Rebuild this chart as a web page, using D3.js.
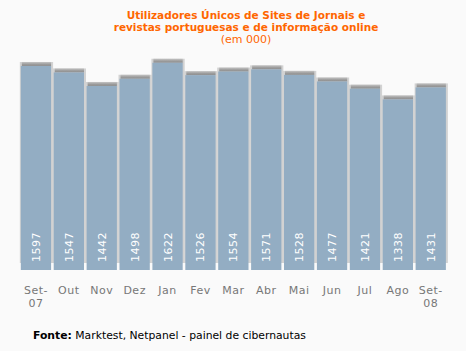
<!DOCTYPE html>
<html>
<head>
  <script src="https://d3js.org/d3.v7.min.js"></script>
  <style>
    body { margin: 0; background: #fafafa; }
    text { font-family: "DejaVu Sans", Verdana, sans-serif; }
  </style>
</head>
<body>
  <svg id="chart"></svg>
  <script>
    var months = ["Set-07", "Out", "Nov", "Dez", "Jan", "Fev", "Mar", "Abr", "Mai", "Jun", "Jul", "Ago", "Set-08"];
    var users = [1597, 1547, 1442, 1498, 1622, 1526, 1554, 1571, 1528, 1477, 1421, 1338, 1431];
    var titleLines = ["Utilizadores Únicos de Sites de Jornais e", "revistas portuguesas e de informação online"];
    var subtitle = "(em 000)";

    var width = 466, height = 351;
    var baseY = 270;

    var svg = d3.select("#chart")
      .attr("width", width)
      .attr("height", height);

    svg.append("rect").attr("width", width).attr("height", height).attr("fill", "#fafafa");

    var x = d3.scaleBand()
      .domain(months)
      .range([19.5, 447.2])
      .paddingInner(0.08)
      .paddingOuter(0.04);

    var y = d3.scaleLinear()
      .domain([0, 1700])
      .range([272, 272 - 1700 * 0.129]);

    var defs = svg.append("defs");
    var grad = defs.append("linearGradient").attr("id", "cap")
      .attr("x1", 0).attr("y1", 0).attr("x2", 0).attr("y2", 1);
    grad.append("stop").attr("offset", "0%").attr("stop-color", "#c4c4c4");
    grad.append("stop").attr("offset", "60%").attr("stop-color", "#9a9a9a");
    grad.append("stop").attr("offset", "100%").attr("stop-color", "#8f8f8f");

    var g = svg.append("g");

    // light shadow behind bars
    g.selectAll(".shadow")
      .data(users)
      .enter().append("rect")
      .attr("class", "shadow")
      .attr("x", (d, i) => x(months[i]) - 1)
      .attr("y", d => y(d) - 4)
      .attr("width", x.bandwidth() + 3)
      .attr("height", d => 263 - y(d) + 4)
      .attr("fill", "#d2d2d2");

    // gray cap on top
    g.selectAll(".cap")
      .data(users)
      .enter().append("rect")
      .attr("class", "cap")
      .attr("x", (d, i) => x(months[i]) + 1)
      .attr("y", d => y(d) - 4)
      .attr("width", x.bandwidth() - 1)
      .attr("height", 4)
      .attr("fill", "url(#cap)");

    g.selectAll(".bar")
      .data(users)
      .enter().append("rect")
      .attr("class", "bar")
      .attr("x", (d, i) => x(months[i]))
      .attr("y", d => y(d))
      .attr("width", x.bandwidth())
      .attr("height", d => baseY - y(d))
      .attr("fill", "#93adc3");

    g.selectAll(".val")
      .data(users)
      .enter().append("text")
      .attr("class", "val")
      .attr("transform", (d, i) => "translate(" + (x(months[i]) + x.bandwidth() / 2 + 4) + "," + 262 + ") rotate(-90)")
      .attr("fill", "#ffffff")
      .style("font-size", "11px")
      .style("letter-spacing", "0.5px")
      .text(d => d);

    // month labels
    var lab = g.selectAll(".mlab")
      .data(months)
      .enter().append("text")
      .attr("class", "mlab")
      .attr("text-anchor", "middle")
      .attr("fill", "#777777")
      .style("font-size", "11px")
      .style("letter-spacing", "0.5px")
      .attr("x", d => x(d) + x.bandwidth() / 2)
      .attr("y", 294);
    lab.each(function(d) {
      var parts = d.indexOf("-") > 0 ? [d.split("-")[0] + "-", d.split("-")[1]] : [d];
      var t = d3.select(this);
      parts.forEach(function(p, k) {
        t.append("tspan").attr("x", t.attr("x")).attr("dy", k === 0 ? 0 : 12.5).text(p);
      });
    });

    // title
    titleLines.forEach(function(line, k) {
      svg.append("text")
        .attr("x", 246)
        .attr("y", 19 + k * 12)
        .attr("text-anchor", "middle")
        .attr("fill", "#ff6600")
        .style("font-size", "10.5px")
        .style("font-weight", "bold")
        .text(line);
    });
    svg.append("text")
      .attr("x", 246)
      .attr("y", 43)
      .attr("text-anchor", "middle")
      .attr("fill", "#ff6600")
      .style("font-size", "11px")
      .text(subtitle);

    var src = svg.append("text")
      .attr("x", 33)
      .attr("y", 339)
      .attr("fill", "#000")
      .style("font-size", "10.8px");
    src.append("tspan").style("font-weight", "bold").text("Fonte:");
    src.append("tspan").text(" Marktest, Netpanel - painel de cibernautas");
  </script>
</body>
</html>
